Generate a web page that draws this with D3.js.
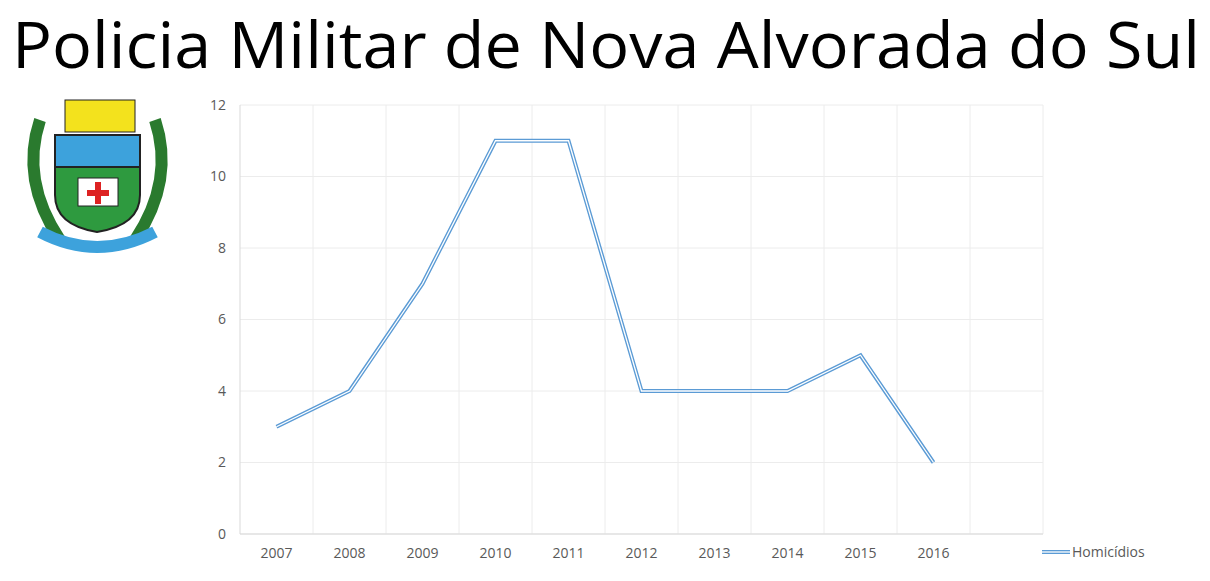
<!DOCTYPE html><html><head><meta charset="utf-8">
<script src="https://cdn.jsdelivr.net/npm/d3@7"></script>
<style>body{margin:0;background:#fff}svg{display:block}</style></head><body>
<svg id="c" width="1210" height="581"></svg>
<script>
const categories=["2007","2008","2009","2010","2011","2012","2013","2014","2015","2016",""];
const homicidios=[3,4,7,11,11,4,4,4,5,2];
const yTicks=[0,2,4,6,8,10,12];
const title="Policia Militar de Nova Alvorada do Sul";
const seriesName="Homicídios";
const svg=d3.select("#c");
const font="'Open Sans', Lato, sans-serif";
svg.append("text").attr("x",606).attr("y",68).attr("text-anchor","middle")
 .attr("font-family",font).attr("font-size",64).attr("textLength",1188).attr("lengthAdjust","spacingAndGlyphs").attr("fill","#000").text(title);
const g=svg.append("g");
g.append("path").attr("d","M55,135 L140,135 L140,195 Q140,225 97,232 Q55,225 55,195 Z").attr("fill","#2e9a3f").attr("stroke","#222").attr("stroke-width",2);
g.append("rect").attr("x",55).attr("y",135).attr("width",85).attr("height",32).attr("fill","#3da2dc").attr("stroke","#222").attr("stroke-width",2);
g.append("rect").attr("x",65).attr("y",100).attr("width",70).attr("height",32).attr("fill","#f3e21d").attr("stroke","#222");
g.append("rect").attr("x",78).attr("y",178).attr("width",40).attr("height",28).attr("fill","#fff").attr("stroke","#222");
g.append("path").attr("d","M95,182h6v8h8v6h-8v8h-6v-8h-8v-6h8z").attr("fill","#d22");
g.append("path").attr("d","M40,120 Q20,180 60,240").attr("fill","none").attr("stroke","#2a7a2e").attr("stroke-width",12);
g.append("path").attr("d","M155,120 Q175,180 135,240").attr("fill","none").attr("stroke","#2a7a2e").attr("stroke-width",12);
g.append("path").attr("d","M40,232 Q97,262 155,232").attr("fill","none").attr("stroke","#3da2dc").attr("stroke-width",12);
const x=d3.scaleBand().domain(categories).range([240,1043]);
const y=d3.scaleLinear().domain([0,12]).range([534,105]);
const grid=svg.append("g").attr("stroke","#ececec").attr("stroke-width",1);
yTicks.forEach(t=>grid.append("line").attr("x1",240).attr("x2",1043).attr("y1",y(t)).attr("y2",y(t)));
categories.forEach(c=>grid.append("line").attr("x1",x(c)+x.bandwidth()).attr("x2",x(c)+x.bandwidth()).attr("y1",105).attr("y2",534));
svg.append("line").attr("x1",240).attr("x2",240).attr("y1",105).attr("y2",534).attr("stroke","#d9d9d9");
svg.append("line").attr("x1",240).attr("x2",1043).attr("y1",534).attr("y2",534).attr("stroke","#d9d9d9");
const ya=svg.append("g").attr("transform","translate(226,0)").call(d3.axisLeft(y).tickValues(yTicks).tickSize(0).tickPadding(0));
ya.select(".domain").remove();
ya.selectAll("text").attr("font-family",font).attr("font-size",14).attr("fill","#595959");
const xa=svg.append("g").attr("transform","translate(0,545)").call(d3.axisBottom(x).tickSize(0).tickPadding(0));
xa.select(".domain").remove();
xa.selectAll("text").attr("font-family",font).attr("font-size",14).attr("fill","#595959").attr("dy","0.9em");
const line=d3.line().x((d,i)=>x(categories[i])+x.bandwidth()/2).y(d=>y(d));
svg.append("path").datum(homicidios).attr("d",line).attr("fill","none").attr("stroke","#5b9bd5").attr("stroke-width",4);
svg.append("path").datum(homicidios).attr("d",line).attr("fill","none").attr("stroke","#fff").attr("stroke-width",1.3);
svg.append("line").attr("x1",1042).attr("x2",1070).attr("y1",552).attr("y2",552).attr("stroke","#5b9bd5").attr("stroke-width",4);
svg.append("line").attr("x1",1042).attr("x2",1070).attr("y1",552).attr("y2",552).attr("stroke","#fff").attr("stroke-width",1.3);
svg.append("text").attr("x",1072).attr("y",557).attr("font-family",font).attr("font-size",14).attr("fill","#595959").text(seriesName);
</script></body></html>
